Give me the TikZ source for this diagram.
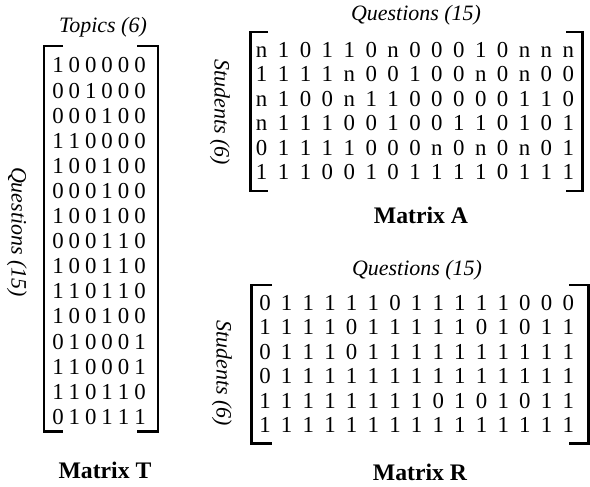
\documentclass[tikz,border=0pt]{standalone}
\usepackage{fontspec}
\setmainfont{Liberation Serif}
\usepackage{tikz}

\begin{document}
\begin{tikzpicture}[x=0.02cm, y=-0.02cm,
		cell/.style={inner sep=0pt, text height=8.5pt, text depth=0pt, font=\fontsize{13}{15}\selectfont},
		brak/.style={line width=1.7pt},
		axislabel/.style={inner sep=0pt, font=\fontsize{12.5}{15}\selectfont\itshape},
		mtitle/.style={inner sep=0pt, font=\fontsize{13.5}{16}\selectfont\bfseries}]
			%%%%% START %%%%%
			\useasboundingbox (0, 0) rectangle (590, 486);
			
			%% matrix T
			\node[axislabel] (Ttop) at (103, 27) {Topics (6)};
			\node[axislabel, rotate=-90] (Tside) at (17, 232) {Questions (15)};
			\foreach \r [count=\i] in {{1,0,0,0,0,0},{0,0,1,0,0,0},{0,0,0,1,0,0},{1,1,0,0,0,0},{1,0,0,1,0,0},
				{0,0,0,1,0,0},{1,0,0,1,0,0},{0,0,0,1,1,0},{1,0,0,1,1,0},{1,1,0,1,1,0},
				{1,0,0,1,0,0},{0,1,0,0,0,1},{1,1,0,0,0,1},{1,1,0,1,1,0},{0,1,0,1,1,1}}
			{
				\foreach \c [count=\j] in \r
					\node[cell] (T-\i-\j) at ({58+(\j-1)*16.4}, {65.5+(\i-1)*25.1}) {\c};
			}
			\draw[brak] (63, 46) -- (44, 46) -- (44, 431) -- (63, 431);
			\draw[brak] (137, 46) -- (158, 46) -- (158, 431) -- (137, 431);
			\node[mtitle] (Tname) at (105, 470) {Matrix T};
			
			%% matrix A
			\node[axislabel] (Atop) at (416, 15) {Questions (15)};
			\node[axislabel, rotate=-90] (Aside) at (220, 112) {Students (6)};
			\foreach \r [count=\i] in {{n,1,0,1,1,0,n,0,0,0,1,0,n,n,n},{1,1,1,1,n,0,0,1,0,0,n,0,n,0,0},
				{n,1,0,0,n,1,1,0,0,0,0,0,1,1,0},{n,1,1,1,0,0,1,0,0,1,1,0,1,0,1},
				{0,1,1,1,1,0,0,0,n,0,n,0,n,0,1},{1,1,1,0,0,1,0,1,1,1,1,0,1,1,1}}
			{
				\foreach \c [count=\j] in \r
					\node[cell] (A-\i-\j) at ({261.7+(\j-1)*21.9}, {50+(\i-1)*24.4}) {\c};
			}
			\draw[brak] (268, 32) -- (250, 32) -- (250, 191) -- (268, 191);
			\draw[brak] (566, 32) -- (582, 32) -- (582, 191) -- (566, 191);
			\node[mtitle] (Aname) at (421, 215) {Matrix A};
			
			%% matrix R
			\node[axislabel] (Rtop) at (417, 270) {Questions (15)};
			\node[axislabel, rotate=-90] (Rside) at (222, 373) {Students (6)};
			\foreach \r [count=\i] in {{0,1,1,1,1,1,0,1,1,1,1,1,0,0,0},{1,1,1,1,0,1,1,1,1,1,0,1,0,1,1},
				{0,1,1,1,0,1,1,1,1,1,1,1,1,1,1},{0,1,1,1,1,1,1,1,1,1,1,1,1,1,1},
				{1,1,1,1,1,1,1,1,0,1,0,1,0,1,1},{1,1,1,1,1,1,1,1,1,1,1,1,1,1,1}}
			{
				\foreach \c [count=\j] in \r
					\node[cell] (R-\i-\j) at ({265+(\j-1)*21.66}, {303+(\i-1)*24.4}) {\c};
			}
			\draw[brak] (272, 285) -- (251, 285) -- (251, 443) -- (272, 443);
			\draw[brak] (569, 285) -- (588, 285) -- (588, 443) -- (569, 443);
			\node[mtitle] (Rname) at (420, 472) {Matrix R};
			
			%%%%% END %%%%%
\end{tikzpicture}
\end{document}
